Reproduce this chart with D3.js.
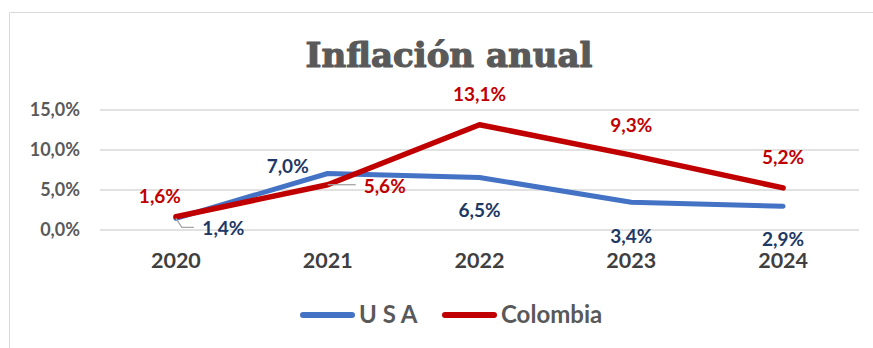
<!DOCTYPE html>
<html>
<head>
<meta charset="utf-8">
<script src="https://cdn.jsdelivr.net/npm/d3@7"></script>
<style>
  html, body { margin: 0; padding: 0; background: #fff; }
  svg { display: block; }
</style>
</head>
<body>
<svg id="chart" width="873" height="348"></svg>
<script>
// Annual inflation, USA vs Colombia (percent)
const years = ["2020", "2021", "2022", "2023", "2024"];
const usaValues = [1.4, 7.0, 6.5, 3.4, 2.9];
const colombiaValues = [1.6, 5.6, 13.1, 9.3, 5.2];
const yTicks = [0, 5, 10, 15];
const seriesNames = ["U S A", "Colombia"];

// Label placement relative to each point: [dx, dy of baseline]
const usaLabelPos = [[47.5, 16.7], [-40, -0.5], [0, 39.8], [0, 40.4], [0, 39.2]];
const colombiaLabelPos = [[-16, -13.7], [57, 8.3], [0, -23.6], [0, -23.4], [0, -23.6]];

const W = 873, H = 348;
const svg = d3.select("#chart");

const locale = d3.formatLocale({ decimal: ",", thousands: ".", grouping: [3], currency: ["", "$"] });
const pct = v => locale.format(".1f")(v) + "%";

const plot = { left: 100, right: 859, top: 109.5, bottom: 229.5 };
const x = d3.scaleBand().domain(years).range([plot.left, plot.right]);
const cx = d => x(d) + x.bandwidth() / 2;
const y = d3.scaleLinear().domain([0, 15]).range([plot.bottom, plot.top]);

const font = "Lato, 'Open Sans', sans-serif";

// Chart frame
svg.append("path")
  .attr("d", `M9.5,${H} V12.5 H${W}`)
  .attr("fill", "none")
  .attr("stroke", "#d9d9d9")
  .attr("stroke-width", 1);

// Title
svg.append("text")
  .attr("x", 449).attr("y", 67)
  .attr("text-anchor", "middle")
  .attr("font-family", "'DejaVu Serif', serif")
  .attr("font-weight", "bold")
  .attr("font-size", 34)
  .attr("textLength", 287)
  .attr("lengthAdjust", "spacingAndGlyphs")
  .attr("fill", "#595959")
  .attr("stroke", "#595959")
  .attr("stroke-width", 1.2)
  .attr("stroke-linejoin", "round")
  .text("Inflación anual");

// Y axis with gridlines
const yAxis = svg.append("g")
  .attr("transform", `translate(${plot.left},0)`)
  .call(d3.axisLeft(y).tickValues(yTicks).tickFormat(pct)
    .tickSize(-(plot.right - plot.left)).tickPadding(20));
yAxis.select(".domain").remove();
yAxis.selectAll(".tick line").attr("stroke", "#d9d9d9").attr("stroke-width", 1.3);
yAxis.selectAll(".tick text")
  .attr("font-family", font).attr("font-weight", "bold")
  .attr("font-size", 18).attr("fill", "#595959").attr("dy", "0.36em");

// X axis labels
const xAxis = svg.append("g")
  .attr("transform", `translate(0,${plot.bottom})`)
  .call(d3.axisBottom(x).tickSize(0).tickPadding(0));
xAxis.select(".domain").remove();
xAxis.selectAll(".tick text")
  .attr("font-family", font).attr("font-weight", "bold")
  .attr("font-size", 21.5).attr("fill", "#3f3f3f")
  .attr("y", 38.5).attr("dy", 0);

const series = [
  { name: seriesNames[0], values: usaValues, color: "#4472c4", labelColor: "#203864", pos: usaLabelPos },
  { name: seriesNames[1], values: colombiaValues, color: "#c00000", labelColor: "#c00000", pos: colombiaLabelPos }
];

const line = d3.line().x((d, i) => cx(years[i])).y(d => y(d));

series.forEach(s => {
  svg.append("path")
    .datum(s.values)
    .attr("d", line)
    .attr("fill", "none")
    .attr("stroke", s.color)
    .attr("stroke-width", s.name === "Colombia" ? 5.5 : 5)
    .attr("stroke-linecap", "round")
    .attr("stroke-linejoin", "round");
});

// Leader lines for labels placed away from their points
const leader = (pts) => svg.append("path")
  .attr("d", d3.line()(pts))
  .attr("fill", "none").attr("stroke", "#a6a6a6").attr("stroke-width", 1.3);
leader([[cx(years[0]), y(usaValues[0])], [cx(years[0]) + 6, y(usaValues[0]) + 9], [cx(years[0]) + 18, y(usaValues[0]) + 9]]);
leader([[cx(years[1]), y(colombiaValues[1])], [cx(years[1]) + 28, y(colombiaValues[1])]]);

// Data labels
series.forEach(s => {
  svg.append("g").selectAll("text")
    .data(s.values)
    .join("text")
    .attr("x", (d, i) => cx(years[i]) + s.pos[i][0])
    .attr("y", (d, i) => y(d) + s.pos[i][1])
    .attr("text-anchor", "middle")
    .attr("font-family", font).attr("font-weight", "bold")
    .attr("font-size", 19)
    .attr("fill", s.labelColor)
    .text(d => pct(d));
});

// Legend
const legend = svg.append("g").attr("transform", "translate(0,315)");
const legendItems = [
  { s: series[0], x0: 300 },
  { s: series[1], x0: 442 }
];
legendItems.forEach(({ s, x0 }) => {
  legend.append("line")
    .attr("x1", x0 + 3).attr("x2", x0 + 52)
    .attr("y1", 0).attr("y2", 0)
    .attr("stroke", s.color).attr("stroke-width", 6)
    .attr("stroke-linecap", "round");
  legend.append("text")
    .attr("x", x0 + 59).attr("y", 8)
    .attr("font-family", font).attr("font-weight", "bold")
    .attr("font-size", 24).attr("fill", "#595959")
    .text(s.name);
});
</script>
</body>
</html>
